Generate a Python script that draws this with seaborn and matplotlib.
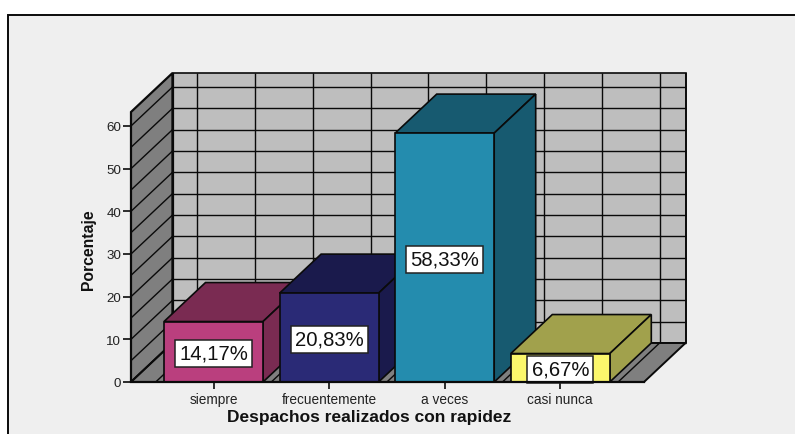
import matplotlib
matplotlib.use("Agg")
import matplotlib.pyplot as plt
import numpy as np
import pandas as pd
import seaborn as sns
from matplotlib.patches import Rectangle

# datos del grafico
categorias = ["siempre", "frecuentemente", "a veces", "casi nunca"]
porcentajes = [14.17, 20.83, 58.33, 6.67]
etiquetas = ["14,17%", "20,83%", "58,33%", "6,67%"]
colores = ["#BA3F7E", "#2A2A76", "#248CAE", "#FBF76C"]
colores_osc = ["#7A2B52", "#1A1A4C", "#175A70", "#A1A14C"]
ticks_y = [0, 10, 20, 30, 40, 50, 60]

W, H = 795, 435
# plano frontal en pixeles
X0, X1, Y0, Y1 = 131, 644, 383, 113
ESC_X = 115.6   # px por categoria
ESC_Y = 4.267   # px por punto porcentual
CX0 = 213.5     # centro de la primera barra
DX = 41.5 / ESC_X   # profundidad en unidades de datos
DY = 39 / ESC_Y
NEGRO = "#0a0a0a"

sns.set_theme(style="white")
plt.rcParams["font.family"] = ["Liberation Sans", "DejaVu Sans"]

fig = plt.figure(figsize=(W / 100, H / 100), dpi=100, facecolor="white")
fig.add_artist(Rectangle((8 / W, -0.1), 1, 1.1 - 15.5 / H, transform=fig.transFigure,
                         fc="#EFEFEF", ec=NEGRO, lw=1.4, zorder=-1))
ax = fig.add_axes([X0 / W, 1 - Y0 / H, (X1 - X0) / W, (Y0 - Y1) / H])
ax.patch.set_visible(False)

df = pd.DataFrame({"categoria": categorias, "porcentaje": porcentajes})
sns.barplot(data=df, x="categoria", y="porcentaje", hue="categoria", palette=colores,
            legend=False, width=99 / ESC_X, saturation=1, edgecolor=NEGRO, linewidth=1.2, ax=ax)
barras = list(ax.patches)
xmin, xmax = (X0 - CX0) / ESC_X, (X1 - CX0) / ESC_X
ymax = (Y0 - Y1) / ESC_Y
ax.set_xlim(xmin, xmax)
ax.set_ylim(0, ymax)


def poly(xs, ys, color, z, lw=1.2):
    ax.fill(xs, ys, facecolor=color, edgecolor=NEGRO, lw=lw, zorder=z, clip_on=False,
            joinstyle="miter")


def linea(xs, ys, z, lw=1.0):
    ax.plot(xs, ys, color=NEGRO, lw=lw, zorder=z, clip_on=False, solid_capstyle="butt")


# pared del fondo, pared lateral y piso
poly([xmin + DX, xmax + DX, xmax + DX, xmin + DX], [DY, DY, ymax + DY, ymax + DY], "#BEBEBE", 1)
poly([xmin, xmin + DX, xmin + DX, xmin], [0, DY, ymax + DY, ymax], "#7F7F7F", 1.1, lw=1.6)
poly([xmin, xmin + DX, xmax + DX, xmax], [0, DY, DY, 0], "#7F7F7F", 1.1, lw=1.4)

# rejilla cada 5 puntos y cada media categoria
for v in np.arange(0, ymax, 5):
    linea([xmin + DX, xmax + DX], [v + DY, v + DY], 1.05)
    linea([xmin, xmin + DX], [v, v + DY], 1.2)
for c in np.arange(-0.5, xmax, 0.5):
    linea([c + DX, c + DX], [DY, ymax + DY], 1.05)
    linea([c, c + DX], [0, DY], 1.2)
linea([xmin + DX, xmin + DX], [DY, ymax + DY], 1.3, lw=1.6)
linea([xmax + DX, xmax + DX], [DY, ymax + DY], 1.3, lw=1.2)

# caras de cada barra, de izquierda a derecha
for i, bar in enumerate(barras):
    z = 2 + i
    bar.set_zorder(z + 0.5)
    bar.set_clip_on(False)
    izq, der = bar.get_x(), bar.get_x() + bar.get_width()
    alto = bar.get_height()
    poly([izq, der, der + DX, izq + DX], [alto, alto, alto + DY, alto + DY], colores_osc[i], z)
    poly([der, der + DX, der + DX, der], [0, DY, alto + DY, alto], colores_osc[i], z)
    ax.annotate(etiquetas[i], (i, alto / 2), xytext=(0, -1.2), textcoords="offset points",
                ha="center", va="center", fontsize=14.6, color="#111111", zorder=z + 0.8,
                bbox=dict(boxstyle="square,pad=0.2", fc="white", ec="#222222", lw=1.1))

sns.despine(ax=ax, top=True, right=True, left=False, bottom=False)
ax.spines["left"].set_visible(False)
ax.spines["bottom"].set_color(NEGRO)
ax.spines["bottom"].set_linewidth(1.6)
ax.spines["bottom"].set_zorder(10)
ax.set_yticks(ticks_y)
ax.set_xticks(range(len(categorias)))
ax.set_xticklabels(categorias)
ax.tick_params(axis="y", left=True, length=6, width=1.2, color=NEGRO, labelsize=9.6, pad=1.2,
               labelcolor="#222222")
ax.tick_params(axis="x", bottom=True, length=5, width=1.2, color=NEGRO, labelsize=9.8, pad=2,
               labelcolor="#222222")
ax.set_xlabel("Despachos realizados con rapidez", fontsize=12.5, fontweight="bold", color="#111111")
ax.xaxis.set_label_coords((369 - X0) / (X1 - X0), -27 / (Y0 - Y1))
ax.set_ylabel("Porcentaje", fontsize=11.3, fontweight="bold", color="#111111")
ax.yaxis.set_label_coords((96 - X0) / (X1 - X0), (Y0 - 250) / (Y0 - Y1))

fig.savefig("out.png", dpi=100)
